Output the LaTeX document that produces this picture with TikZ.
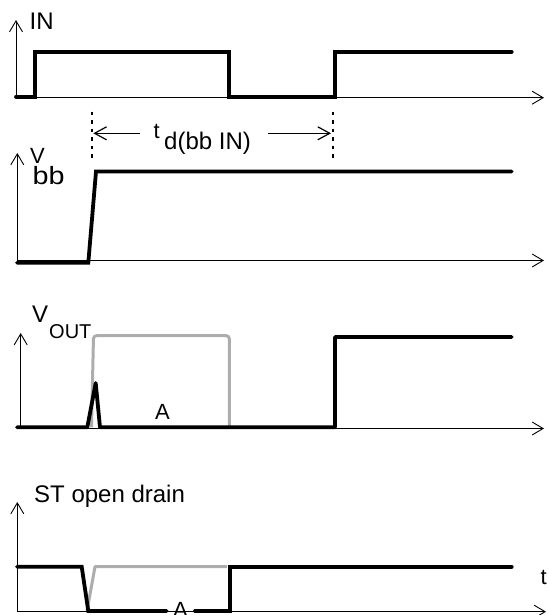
\documentclass[tikz,border=0pt]{standalone}
\usepackage{fontspec}
\setmainfont{Liberation Sans}
\usetikzlibrary{arrows.meta}
\newcommand{\lblfs}[1]{\fontsize{#1}{#1}\selectfont}
\begin{document}
\begin{tikzpicture}[x=1pt,y=-1pt,
  axis/.style={line width=0.9pt, -{Straight Barb[length=11pt,width=13pt]}},
  sig/.style={line width=3.8pt, line cap=round, line join=miter},
  ghost/.style={line width=3pt, draw=black!32, line join=round},
  delay/.style={line width=1.2pt, -{Straight Barb[length=12pt,width=13pt]}},
  marker/.style={line width=1.8pt, dash pattern=on 3.5pt off 5pt},
  lbl/.style={inner sep=0pt, anchor=base west},
  lblc/.style={inner sep=0pt, anchor=base},
]
\useasboundingbox (0,0) rectangle (547,615);

% ---------- IN ----------
\coordinate (inO) at (16,97.7);
\coordinate (inY) at (16,20);
\coordinate (inX) at (544,97.7);
\draw[axis] (inO) -- (inY);
\draw[axis] (inO) -- (inX);
\draw[sig] (16,96.7) -- (35,96.7) -- (35,51.7) -- (229.3,51.7) -- (229.3,96.7)
  -- (335,96.7) -- (335,51.7) -- (511.7,51.7);
\node[lbl] (inlbl) at (29.5,30) {\lblfs{24}IN};

% ---------- delay marker ----------
\coordinate (mLt) at (92.3,111.7);
\coordinate (mLb) at (92.3,158);
\coordinate (mRt) at (333.3,111.7);
\coordinate (mRb) at (333.3,158);
\draw[marker] (mLt) -- (mLb);
\draw[marker] (mRt) -- (mRb);
\coordinate (aL0) at (140,133.3);
\coordinate (aL1) at (93.3,133.3);
\coordinate (aR0) at (268,133.3);
\coordinate (aR1) at (331,133.3);
\draw[delay] (aL0) -- (aL1);
\draw[delay] (aR0) -- (aR1);
\node[lbl] (tdT) at (153.5,138) {\lblfs{22}t};
\node[lbl] (tdS) at (164,149) {\lblfs{24}d(bb IN)};

% ---------- Vbb ----------
\coordinate (vbO) at (17.3,260.5);
\coordinate (vbY) at (17.3,153);
\coordinate (vbX) at (544,260.5);
\draw[axis] (vbO) -- (vbY);
\draw[axis] (vbO) -- (vbX);
\draw[sig] (17,262.7) -- (88.3,262.7) -- (96,171.5) -- (511.7,171.5);
\node[lbl] (vbbV) at (30,163) {\lblfs{22}V};
\node[lbl] (vbbS) at (32.5,184) {\lblfs{25}\scalebox{1.15}[1]{bb}};

% ---------- VOUT ----------
\coordinate (voO) at (20.7,428.5);
\coordinate (voY) at (20.7,333);
\coordinate (voS0) at (17,428.5);
\coordinate (voX) at (544,428.5);
\draw[axis] (voO) -- (voY);
\draw[axis] (voS0) -- (voX);
\draw[ghost, rounded corners=3pt] (91.5,427.3) -- (93.5,335.7) -- (229.3,335.7) -- (229.3,427.3);
\draw[sig, line join=round] (17,427.3) -- (87.3,427.3) -- (95.7,383) -- (100,427.3)
  -- (335,427.3) -- (335,337) -- (511.7,337);
\node[lbl] (voV) at (32,322) {\lblfs{24}V};
\node[lbl] (voSub) at (49,338) {\lblfs{20}OUT};
\node[lblc] (voA) at (162.5,419) {\lblfs{22}A};

% ---------- ST open drain ----------
\coordinate (stO) at (17.3,611.7);
\coordinate (stY) at (17.3,502);
\coordinate (stX) at (546,611.7);
\draw[axis] (stO) -- (stY);
\draw[axis] (stO) -- (stX);
\draw[ghost] (87,611) -- (95,566.7) -- (227,566.7);
\draw[sig] (17,566.7) -- (81.7,566.7) -- (88.3,611) -- (166.7,611);
\draw[sig] (195,611) -- (230,611) -- (230,566.7) -- (511.7,566.7);
\node[lbl] (stlbl) at (34,502) {\lblfs{24}ST open drain};
\node[lblc] (stA) at (180.5,617) {\lblfs{22}A};
\node[lbl] (tlbl) at (540.5,584) {\lblfs{22}t};
\end{tikzpicture}
\end{document}
